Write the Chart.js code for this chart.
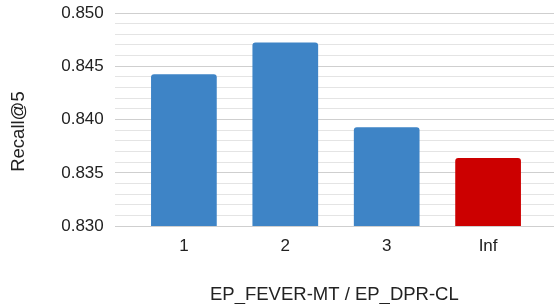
<!DOCTYPE html>
<html>
<head>
<meta charset="utf-8">
<script src="https://cdn.jsdelivr.net/npm/chart.js@4"></script>
<style>
  html, body { margin: 0; padding: 0; background: #fff; }
  #wrap { width: 554px; height: 304px; }
</style>
</head>
<body>
<div id="wrap"><canvas id="c" width="554" height="304"></canvas></div>
<script>
const categories = ['1', '2', '3', 'Inf'];
const recallValues = [0.84426, 0.84722, 0.83927, 0.83638];
const barColors = ['#3E84C6', '#3E84C6', '#3E84C6', '#CC0000'];
const yMin = 0.830, yMax = 0.850, yMinorStep = 0.001;
const xTitle = 'EP_FEVER-MT / EP_DPR-CL';
const yTitle = 'Recall@5';

const FONT = 'Liberation Sans, Arial, sans-serif';

// y-axis title drawn slightly below the plot-area centre, as in the reference
const yTitlePlugin = {
  id: 'yTitle',
  afterDraw(chart) {
    const ctx = chart.ctx;
    const a = chart.chartArea;
    ctx.save();
    ctx.translate(18.5, (a.top + a.bottom) / 2 + 12);
    ctx.rotate(-Math.PI / 2);
    ctx.font = '18.5px ' + FONT;
    ctx.fillStyle = '#222';
    ctx.textAlign = 'center';
    ctx.textBaseline = 'middle';
    ctx.fillText(yTitle, 0, 0);
    ctx.restore();
  }
};

new Chart(document.getElementById('c'), {
  type: 'bar',
  data: {
    datasets: [{
      data: recallValues.map((v, i) => ({ x: i + 1, y: v })),
      backgroundColor: barColors,
      borderWidth: 0,
      borderRadius: { topLeft: 3, topRight: 3 },
      borderSkipped: 'start',
      categoryPercentage: 1,
      barPercentage: 0.648
    }]
  },
  plugins: [yTitlePlugin],
  options: {
    responsive: false,
    animation: false,
    devicePixelRatio: 1,
    layout: { padding: { top: 13, right: 0, left: 50.2, bottom: -2 } },
    plugins: { legend: { display: false }, tooltip: { enabled: false } },
    scales: {
      x: {
        type: 'linear',
        offset: false,
        min: 0.318,
        max: 4.65,
        afterBuildTicks: (axis) => { axis.ticks = categories.map((c, i) => ({ value: i + 1 })); },
        grid: { display: false, drawTicks: false, tickLength: 0 },
        border: { display: false },
        ticks: {
          autoSkip: false,
          maxRotation: 0,
          padding: 10,
          color: '#222',
          font: { family: FONT, size: 17 },
          callback: (v) => categories[Math.round(v) - 1] || ''
        },
        title: {
          display: true,
          text: xTitle,
          color: '#222',
          font: { family: FONT, size: 18.5 },
          padding: { top: 17.3, bottom: 0 }
        }
      },
      y: {
        min: yMin,
        max: yMax,
        border: { display: false },
        afterFit: (s) => { s.paddingTop = 0; s.paddingBottom = 0; },
        grid: {
          drawTicks: false,
          lineWidth: 1,
          color: (ctx) => {
            const k = Math.round(ctx.tick.value / yMinorStep);
            return k % 5 === 0 ? '#cfcfcf' : '#e4e4e4';
          }
        },
        ticks: {
          stepSize: yMinorStep,
          autoSkip: false,
          padding: 11,
          color: '#222',
          font: { family: FONT, size: 17 },
          callback: (v) => {
            const k = Math.round(v / yMinorStep);
            return k % 5 === 0 ? (k * yMinorStep).toFixed(3) : '';
          }
        },
        title: { display: false }
      }
    }
  }
});
</script>
</body>
</html>
